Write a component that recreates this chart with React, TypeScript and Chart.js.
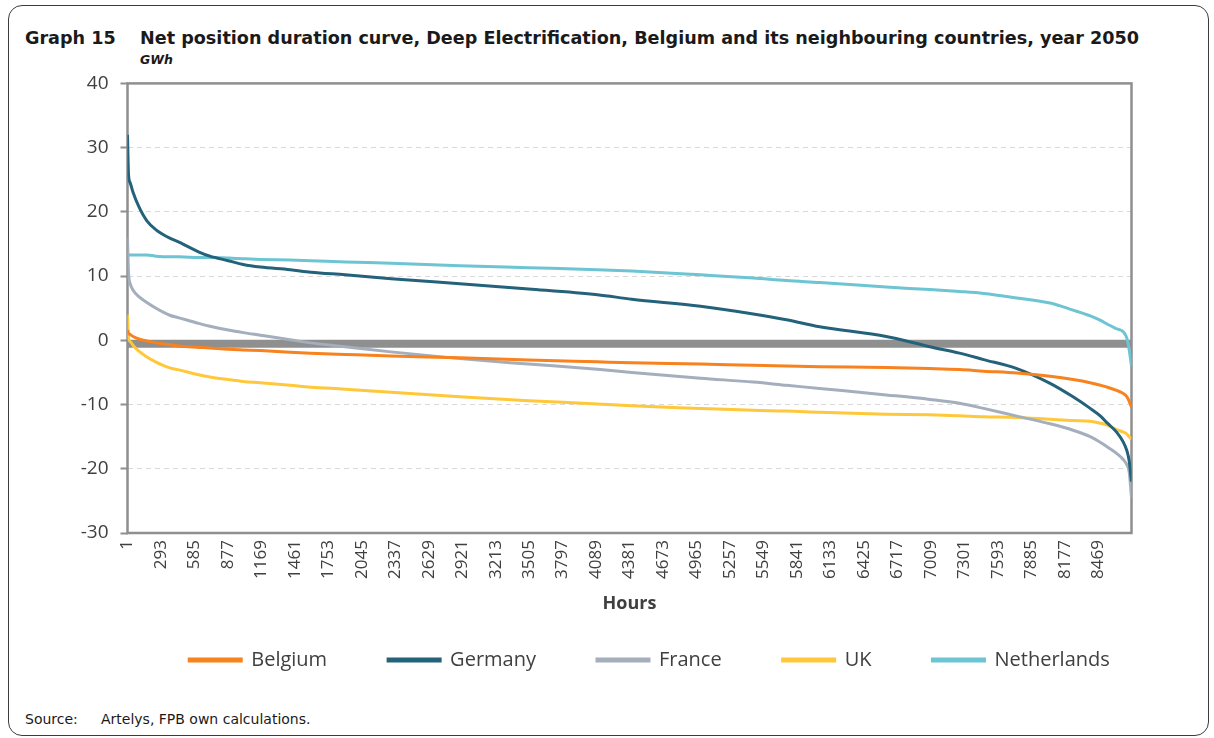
import React, { useEffect, useRef } from "react";
import { Chart, registerables } from "chart.js";

Chart.register(...registerables);

// ---- data ----
const hours = [1, 10, 25, 50, 100, 170, 250, 370, 450, 630, 720, 880, 1010, 1160, 1420, 1600, 1900, 2300, 2900, 3500, 4100, 4400, 5000, 5460, 5750, 6040, 6620, 7000, 7260, 7470, 7760, 8050, 8250, 8400, 8490, 8550, 8630, 8690, 8720, 8740, 8760];

const belgium = [1.6, 1.1, 0.9, 0.6, 0.2, -0.1, -0.4, -0.7, -0.9, -1.1, -1.2, -1.4, -1.5, -1.6, -1.85, -2.0, -2.2, -2.45, -2.7, -3.05, -3.35, -3.5, -3.7, -3.9, -4.0, -4.1, -4.25, -4.4, -4.55, -4.8, -5.1, -5.6, -6.1, -6.6, -7.0, -7.3, -7.8, -8.3, -8.8, -9.5, -10.4];
const germany = [32, 25.8, 24.5, 23.0, 20.8, 18.6, 17.2, 15.9, 15.3, 13.7, 13.1, 12.4, 11.8, 11.4, 11.0, 10.6, 10.2, 9.6, 8.8, 8.0, 7.1, 6.4, 5.3, 4.1, 3.2, 2.1, 0.6, -1.0, -2.0, -3.0, -4.4, -6.7, -8.8, -10.6, -11.8, -12.9, -14.3, -15.9, -17.2, -18.8, -22.0];
const france = [16.0, 10.5, 8.8, 7.8, 6.8, 5.9, 5.0, 3.9, 3.5, 2.6, 2.2, 1.6, 1.2, 0.8, 0.1, -0.4, -1.0, -1.8, -2.85, -3.7, -4.5, -5.0, -5.9, -6.5, -7.0, -7.5, -8.5, -9.2, -9.8, -10.6, -11.8, -13.0, -14.0, -15.0, -15.9, -16.6, -17.6, -18.6, -19.4, -20.5, -24.5];
const uk = [4.0, 0.3, -0.2, -0.8, -1.7, -2.6, -3.4, -4.3, -4.6, -5.4, -5.7, -6.1, -6.4, -6.6, -7.0, -7.3, -7.6, -8.1, -8.8, -9.4, -9.9, -10.2, -10.6, -10.9, -11.0, -11.2, -11.5, -11.6, -11.75, -11.9, -12.0, -12.3, -12.5, -12.6, -12.9, -13.2, -13.9, -14.3, -14.6, -15.0, -15.4];
const netherlands = [13.3, 13.3, 13.3, 13.3, 13.3, 13.3, 13.1, 13.0, 13.0, 12.9, 12.9, 12.8, 12.7, 12.6, 12.5, 12.4, 12.2, 12.0, 11.6, 11.3, 11.0, 10.8, 10.2, 9.7, 9.3, 9.0, 8.3, 7.9, 7.6, 7.3, 6.6, 5.8, 4.7, 3.8, 3.1, 2.5, 1.8, 1.3, 0.3, -1.5, -4.0];

const seriesNames = ["Belgium", "Germany", "France", "UK", "Netherlands"];
const seriesValues = [belgium, germany, france, uk, netherlands];
const seriesColors = ["#F7821E", "#23627A", "#A4AEBC", "#FFC83A", "#6DC4D2"];

const zeroBandHours = [1, 8760];
const zeroBandValues = [-0.55, -0.55];

const hourTicks = [1, 293, 585, 877, 1169, 1461, 1753, 2045, 2337, 2629, 2921, 3213, 3505, 3797, 4089, 4381, 4673, 4965, 5257, 5549, 5841, 6133, 6425, 6717, 7009, 7301, 7593, 7885, 8177, 8469];

const FONT = "'Open Sans', 'Noto Sans', sans-serif";
const TEXT = "#404040";

const framePlugin = {
  id: "plotFrame",
  beforeDatasetsDraw(chart: any) {
    const { ctx, chartArea } = chart;
    const { left, top, right, bottom } = chartArea;
    ctx.save();
    ctx.strokeStyle = "#8f8f8f";
    ctx.lineWidth = 2.5;
    ctx.strokeRect(left, top, right - left, bottom - top);
    ctx.restore();
  },
};

export default function App() {
  const ref = useRef<HTMLCanvasElement>(null);

  useEffect(() => {
    const datasets: any[] = seriesNames.map((name, i) => ({
      label: name,
      data: hours.map((h, j) => ({ x: h, y: seriesValues[i][j] })),
      borderColor: seriesColors[i],
      backgroundColor: seriesColors[i],
      borderWidth: 3,
      pointRadius: 0,
      pointHoverRadius: 0,
      cubicInterpolationMode: "monotone",
      fill: false,
      order: 1,
    }));
    datasets.push({
      label: "zero",
      data: zeroBandHours.map((h, j) => ({ x: h, y: zeroBandValues[j] })),
      borderColor: "#8f8f8f",
      backgroundColor: "#8f8f8f",
      borderWidth: 8,
      pointRadius: 0,
      fill: false,
      order: 10,
    });

    const chart = new Chart(ref.current as HTMLCanvasElement, {
      type: "line",
      data: { datasets },
      options: {
        animation: false,
        responsive: false,
        maintainAspectRatio: false,
        layout: { padding: { left: 74, right: -11, top: 22.5, bottom: 20 } },
        plugins: {
          tooltip: { enabled: false },
          legend: {
            position: "bottom",
            labels: {
              filter: (item: any) => item.text !== "zero",
              font: { family: FONT, size: 20 },
              color: TEXT,
              boxWidth: 52,
              boxHeight: 2,
              padding: 61,
            },
          },
        },
        scales: {
          x: {
            type: "linear",
            min: 1,
            max: 8760,
            afterBuildTicks: (s: any) => {
              s.ticks = hourTicks.map((v) => ({ value: v }));
            },
            afterFit: (s: any) => {
              s.height = 56;
            },
            grid: { display: false, drawTicks: false },
            border: { display: false },
            ticks: {
              autoSkip: false,
              minRotation: 90,
              maxRotation: 90,
              padding: 7,
              color: TEXT,
              font: { family: FONT, size: 17 },
              callback: (v: any) => String(v),
            },
            title: {
              display: true,
              text: "Hours",
              color: TEXT,
              font: { family: FONT, size: 18, weight: "bold" },
              padding: { top: 0, bottom: -26 },
            },
          },
          y: {
            min: -30,
            max: 40,
            afterFit: (s: any) => {
              s.width = 53.5;
            },
            ticks: {
              stepSize: 10,
              padding: 12,
              color: TEXT,
              font: { family: FONT, size: 19 },
            },
            grid: {
              color: "#d9d9d9",
              lineWidth: 1,
              tickColor: "#8f8f8f",
              tickWidth: 2,
              tickLength: 7,
              tickBorderDash: [],
            },
            border: { display: false, dash: [5, 4] },
          },
          yRight: {
            position: "right",
            display: true,
            afterFit: (s: any) => {
              s.width = 93.5;
            },
            grid: { display: false, drawTicks: false },
            border: { display: false },
            ticks: { display: false },
          },
        },
      } as any,
      plugins: [framePlugin],
    });
    return () => chart.destroy();
  }, []);

  const titleStyle: React.CSSProperties = {
    position: "absolute",
    top: 27,
    fontFamily: "'DejaVu Sans', sans-serif",
    fontWeight: "bold",
    fontSize: 17.6,
    color: "#1a1a1a",
    whiteSpace: "pre",
    lineHeight: "22px",
  };
  const sourceStyle: React.CSSProperties = {
    position: "absolute",
    top: 710,
    fontFamily: "'DejaVu Sans', sans-serif",
    fontSize: 14,
    color: "#1a1a1a",
    lineHeight: "18px",
    whiteSpace: "pre",
  };

  return (
    <div
      style={{
        position: "absolute",
        left: 0,
        top: 0,
        width: 1214,
        height: 738,
        overflow: "hidden",
        background: "#fff",
      }}
    >
      <div
        style={{
          position: "absolute",
          left: 8,
          top: 5,
          width: 1201,
          height: 731,
          border: "1px solid #3c3c3c",
          borderRadius: 14,
          boxSizing: "border-box",
        }}
      />
      <div style={{ ...titleStyle, left: 25 }}>Graph 15</div>
      <div style={{ ...titleStyle, left: 140 }}>
        Net position duration curve, Deep Electrification, Belgium and its neighbouring countries, year 2050
      </div>
      <div
        style={{
          position: "absolute",
          left: 140,
          top: 52,
          fontFamily: "'DejaVu Sans', sans-serif",
          fontWeight: "bold",
          fontStyle: "italic",
          fontSize: 12.5,
          color: "#1a1a1a",
          lineHeight: "16px",
        }}
      >
        GWh
      </div>
      <div style={{ position: "absolute", left: 0, top: 60, width: 1214, height: 640 }}>
        <canvas ref={ref} width={1214} height={640} style={{ display: "block" }} />
      </div>
      <div style={{ ...sourceStyle, left: 25 }}>Source:</div>
      <div style={{ ...sourceStyle, left: 101 }}>Artelys, FPB own calculations.</div>
    </div>
  );
}
